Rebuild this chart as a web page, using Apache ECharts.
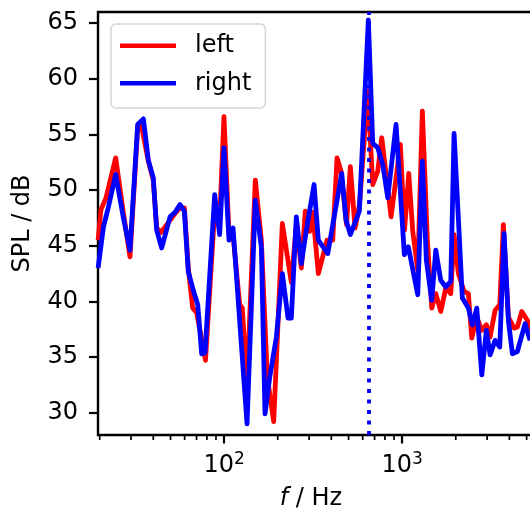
<!DOCTYPE html>
<html>
<head>
<meta charset="utf-8">
<script src="https://cdn.jsdelivr.net/npm/echarts@6/dist/echarts.min.js"></script>
<style>
html,body{margin:0;padding:0;background:#fff;overflow:hidden;width:530px;height:516px;}
#chart{width:560px;height:516px;}
</style>
</head>
<body>
<div id="chart"></div>
<script>
// ---- data ----
const freqLeft = [19.6, 20.3, 21.7, 24.6, 27.1, 29.6, 32.7, 34.4, 37.5, 40.0, 41.8, 44.2, 49.7, 53.0, 56.5, 59.8, 62.9, 66.6, 70.1, 78.6, 88.9, 94.2, 99.8, 106.5, 112.2, 122.3, 126.5, 134.5, 149.7, 161.8, 174.8, 189.9, 212.3, 238.5, 254.4, 271.5, 285.8, 302.6, 314.6, 338.2, 378.4, 407.4, 430.7, 453.6, 487.0, 511.6, 543.7, 576.3, 640.7, 683.5, 729.2, 768.0, 866.2, 976.6, 1031.3, 1088.9, 1146.7, 1223.4, 1298.4, 1385.2, 1466.3, 1544.2, 1647.4, 1757.5, 1875.0, 1956.7, 2068.9, 2227.1, 2354.5, 2460.4, 2624.7, 2799.9, 2971.6, 3117.3, 3325.6, 3533.9, 3702.5, 3950.0, 4252.1, 4437.6, 4696.8, 5096.9, 5230.6];
const splLeft = [45.5, 48.2, 49.3, 52.9, 48.1, 44.0, 55.6, 55.7, 52.6, 50.9, 46.6, 46.2, 47.3, 47.9, 48.4, 48.4, 43.0, 39.4, 39.0, 34.7, 48.7, 46.9, 56.6, 46.0, 46.0, 39.7, 39.4, 32.7, 50.9, 45.5, 33.2, 29.2, 47.0, 41.7, 46.9, 43.0, 48.1, 46.3, 48.0, 42.5, 45.5, 45.5, 52.9, 51.7, 46.9, 52.1, 46.6, 48.7, 58.9, 50.5, 51.7, 54.7, 47.6, 54.1, 46.4, 51.5, 46.3, 42.8, 57.1, 45.5, 39.4, 40.7, 39.1, 41.2, 40.7, 46.0, 42.5, 40.9, 40.7, 36.7, 38.6, 37.4, 37.9, 36.8, 39.2, 39.7, 46.9, 38.6, 37.6, 37.7, 39.1, 38.2, 37.4];
const freqRight = [19.6, 21.0, 22.4, 24.6, 27.1, 29.6, 32.7, 35.2, 37.5, 40.0, 41.8, 44.6, 49.7, 53.0, 56.5, 59.8, 62.9, 67.1, 71.1, 74.8, 78.1, 88.5, 94.4, 99.8, 106.5, 112.2, 134.5, 149.7, 161.8, 169.7, 180.4, 196.5, 212.3, 228.5, 238.5, 254.4, 271.5, 289.6, 319.9, 338.2, 382.0, 457.7, 483.9, 511.6, 574.8, 645.7, 683.5, 729.2, 778.0, 829.9, 923.9, 1028.6, 1083.2, 1223.4, 1298.4, 1367.4, 1466.3, 1544.2, 1647.4, 1757.5, 1875.0, 1956.7, 2178.7, 2354.5, 2479.5, 2624.7, 2799.9, 2971.6, 3117.3, 3325.6, 3533.9, 3736.1, 3950.0, 4159.6, 4437.6, 4901.6, 5230.6];
const splRight = [43.0, 46.7, 48.5, 51.4, 47.6, 44.6, 55.9, 56.4, 52.7, 51.1, 46.4, 44.8, 47.6, 48.0, 48.7, 48.1, 42.7, 41.0, 39.7, 35.3, 35.4, 49.6, 46.0, 53.8, 45.5, 46.6, 29.0, 49.1, 44.9, 29.9, 33.2, 36.8, 42.5, 38.5, 38.5, 47.6, 43.4, 46.4, 50.5, 45.5, 44.3, 51.5, 47.3, 46.0, 48.1, 65.3, 54.2, 53.8, 52.3, 49.3, 55.9, 44.2, 44.9, 40.6, 52.6, 43.7, 40.1, 44.6, 41.9, 41.3, 41.8, 55.1, 40.3, 39.4, 37.9, 39.4, 33.4, 37.4, 35.2, 36.5, 35.9, 46.1, 38.3, 35.3, 35.5, 38.0, 36.5];
const peakFreq = 647;
const yTicks = [30, 35, 40, 45, 50, 55, 60, 65];
const xMajorTicks = [100, 1000];
const xMinorTicks = [20, 30, 40, 50, 60, 70, 80, 90, 200, 300, 400, 500, 600, 700, 800, 900, 2000, 3000, 4000, 5000, 6000, 7000];
const X_MIN = 19.57, X_MAX = 7700, Y_MIN = 28, Y_MAX = 66;

const FONT = 'DejaVu Sans';
const chart = echarts.init(document.getElementById('chart'), null, {renderer: 'canvas'});

const option = {
  animation: false,
  backgroundColor: '#ffffff',
  grid: {
    left: 98, top: 12, width: 462, height: 423,
    outerBoundsMode: 'none', containLabel: false,
    show: true, borderColor: '#000', borderWidth: 2.4, backgroundColor: 'transparent'
  },
  legend: {
    orient: 'vertical',
    left: 111, top: 24,
    padding: [7.7, 14, 10.7, 9],
    itemGap: 9.6,
    itemWidth: 56, itemHeight: 4.5,
    backgroundColor: 'rgba(255,255,255,0.8)',
    borderColor: '#d6d6d6', borderWidth: 1.5, borderRadius: 5,
    textStyle: {fontFamily: FONT, fontSize: 24, color: '#000', lineHeight: 28, padding: [0, 0, 0, 14]},
    data: [{name: 'left', icon: 'rect'}, {name: 'right', icon: 'rect'}]
  },
  xAxis: {
    type: 'log', logBase: 10, min: X_MIN, max: X_MAX,
    name: '{i|f} / Hz', nameLocation: 'middle', nameGap: 52,
    nameTextStyle: {
      fontFamily: FONT, fontSize: 24, color: '#000', padding: [0, 36, 0, 0],
      rich: {i: {fontFamily: FONT, fontSize: 24, fontStyle: 'italic', color: '#000'}}
    },
    axisLine: {show: false},
    splitLine: {show: false},
    axisTick: {show: true, customValues: xMajorTicks, length: 8.5, lineStyle: {color: '#000', width: 2.2}},
    axisLabel: {
      customValues: xMajorTicks, margin: 16,
      formatter: v => '{b|10}{s|' + Math.round(Math.log10(v)) + '}',
      rich: {
        b: {fontFamily: FONT, fontSize: 24, color: '#000', lineHeight: 30},
        s: {fontFamily: FONT, fontSize: 17, color: '#000', lineHeight: 17, verticalAlign: 'top'}
      }
    }
  },
  yAxis: {
    type: 'value', min: Y_MIN, max: Y_MAX,
    name: 'SPL / dB', nameLocation: 'middle', nameGap: 63, nameRotate: 90,
    nameTextStyle: {fontFamily: FONT, fontSize: 24, color: '#000'},
    axisLine: {show: false},
    splitLine: {show: false},
    axisTick: {show: true, customValues: yTicks, length: 9, lineStyle: {color: '#000', width: 2.2}},
    axisLabel: {customValues: yTicks, margin: 20, fontFamily: FONT, fontSize: 24, color: '#000'}
  },
  series: [
    {
      name: 'left', type: 'line', symbol: 'none', showSymbol: false,
      data: freqLeft.map((f, i) => [f, splLeft[i]]),
      itemStyle: {color: '#ff0000'},
      lineStyle: {color: '#ff0000', width: 4.8, join: 'round', cap: 'butt'},
      z: 2
    },
    {
      name: 'right', type: 'line', symbol: 'none', showSymbol: false,
      data: freqRight.map((f, i) => [f, splRight[i]]),
      itemStyle: {color: '#0000ff'},
      lineStyle: {color: '#0000ff', width: 4.8, join: 'round', cap: 'butt'},
      z: 3,
      markLine: {
        silent: true, symbol: 'none', animation: false,
        label: {show: false},
        lineStyle: {color: '#0000ff', width: 3.8, type: [4, 6.5]},
        data: [{xAxis: peakFreq}]
      }
    },
    {
      name: 'minorTicks', type: 'custom', silent: true, clip: false,
      data: xMinorTicks.map(v => [v, Y_MIN]),
      encode: {x: 0, y: 1},
      renderItem: (params, api) => {
        const p = api.coord([api.value(0), api.value(1)]);
        return {
          type: 'line',
          shape: {x1: p[0], y1: p[1], x2: p[0], y2: p[1] + 5},
          style: {stroke: '#000', lineWidth: 1.7}
        };
      },
      z: 5
    }
  ]
};
chart.setOption(option);
</script>
</body>
</html>
